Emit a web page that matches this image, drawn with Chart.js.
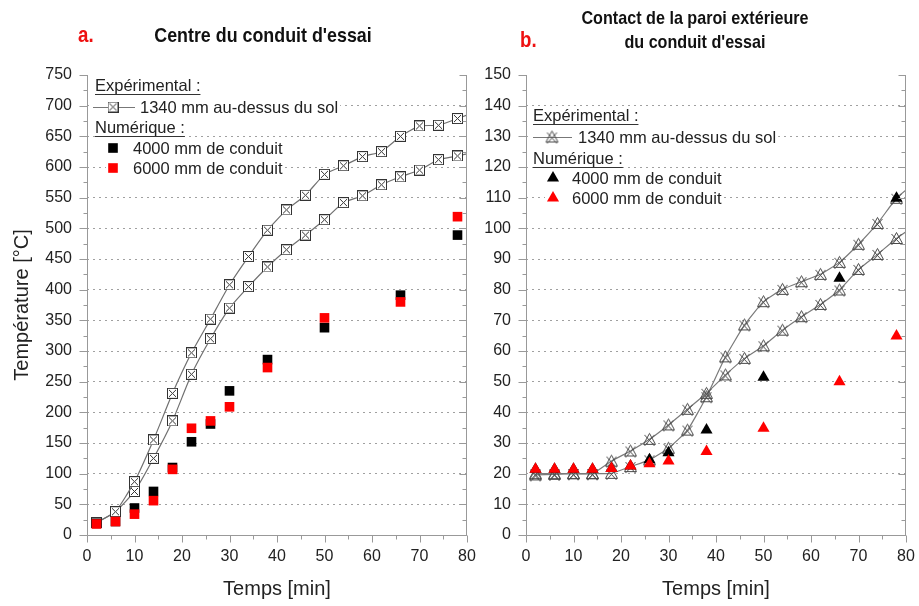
<!DOCTYPE html>
<html><head><meta charset="utf-8">
<script src="https://cdn.jsdelivr.net/npm/chart.js@4.4.1/dist/chart.umd.min.js"></script>
<style>
html,body{margin:0;padding:0;background:#fff;}
#wrap{position:relative;width:919px;height:606px;overflow:hidden;background:#fff;}
canvas{position:absolute;top:0;}
.t{position:absolute;font-family:"Liberation Sans Narrow","Arial Narrow","Liberation Sans",Arial,sans-serif;font-weight:bold;color:#111;white-space:nowrap;line-height:24px;height:24px;transform:scaleX(0.85);}
.c{text-align:center;width:400px;transform-origin:center;}
.l{transform-origin:left center;}
.red{color:#ee1111;}
</style></head>
<body><div id="wrap">
<canvas id="cA" width="500" height="606" style="left:0"></canvas>
<canvas id="cB" width="462" height="606" style="left:478px"></canvas>
<div class="t l red" style="left:78px;top:23px;font-size:22px">a.</div>
<div class="t c" style="left:63px;top:23px;font-size:21px">Centre du conduit d'essai</div>
<div class="t l red" style="left:520px;top:28px;font-size:22px">b.</div>
<div class="t c" style="left:495px;top:6px;font-size:19px">Contact de la paroi extérieure</div>
<div class="t c" style="left:495px;top:30px;font-size:19px">du conduit d'essai</div>
</div>
<script>
// ---------- DATA ----------
const expTimes = [2,6,10,14,18,22,26,30,34,38,42,46,50,54,58,62,66,70,74,78,82];
const numTimes = [2,6,10,14,18,22,26,30,38,50,66,78];

// a. Centre du conduit d'essai
const centreExpUpper = [20,38,87,155,231,297,352,408,454,497,530,554,588,602,617,625,650,667,668,679,690];
const centreExpLower = [20,38,71,125,186,262,320,370,405,437,465,489,514,542,553,571,584,595,612,618,625];
const centreNum4000 = [19,22,44,71,110,152,181,235,286,338,391,489];
const centreNum6000 = [18,22,34,56,107,174,186,209,273,354,380,519];

// b. Contact de la paroi extérieure
const paroiExpA = [20,20,20,20,24.1,27.4,31.2,35.9,41,46.2,52.2,57.6,61.7,66.8,71.2,75.2,79.9,86.6,91.5,96.7,101];
const paroiExpB = [19.6,19.8,20,20,20.1,22.3,24.5,28.3,34.2,45.1,58.1,68.5,76.1,80.1,82.6,85,88.9,94.8,101.6,109.8,115];
const paroiNum4000 = [21.4,21.4,21.4,21.4,21.7,22.5,24.5,26.8,34.2,51.4,83.7,109.8];
const paroiNum6000 = [21.4,21.4,21.4,21.4,21.7,22.5,23.2,24.1,27.2,34.8,50,64.9];

const legendHeadExp = 'Expérimental :';
const legendExp = '1340 mm au-dessus du sol';
const legendHeadNum = 'Numérique :';
const legend4000 = '4000 mm de conduit';
const legend6000 = '6000 mm de conduit';
const xTitle = 'Temps [min]';
const yTitle = 'Température [°C]';

// ---------- helpers ----------
const pts = (xs, ys) => xs.map((x, i) => ({x: x, y: ys[i]}));
const AXIS = '#999999';
const TXT = '#222222';
const FONT = '"Liberation Sans", Arial, sans-serif';

function makeSqX(size, color) {
  const c = document.createElement('canvas'); c.width = size; c.height = size;
  const g = c.getContext('2d');
  g.fillStyle = '#fff'; g.fillRect(0.5, 0.5, size - 1, size - 1);
  g.strokeStyle = color; g.lineWidth = 1;
  g.strokeRect(0.5, 0.5, size - 1, size - 1);
  g.beginPath(); g.moveTo(2, 2); g.lineTo(size - 2, size - 2);
  g.moveTo(size - 2, 2); g.lineTo(2, size - 2); g.stroke();
  return c;
}
function makeTriX(size, color) {
  const c = document.createElement('canvas'); c.width = size; c.height = size;
  const g = c.getContext('2d');
  g.strokeStyle = color; g.lineWidth = 1;
  g.beginPath();
  g.moveTo(size / 2, 1.5); g.lineTo(size - 1.5, size - 2.5); g.lineTo(1.5, size - 2.5); g.closePath();
  g.moveTo(2.5, 3); g.lineTo(size - 2.5, size - 1);
  g.moveTo(size - 2.5, 3); g.lineTo(2.5, size - 1);
  g.stroke();
  return c;
}
const markSq = makeSqX(11, '#333');
const markTri = makeTriX(15, '#4a4a4a');

function drawMarker(ctx, style, radius, color, x, y) {
  ctx.save();
  if (style instanceof HTMLCanvasElement) {
    ctx.drawImage(style, x - style.width / 2, y - style.height / 2);
  } else {
    ctx.fillStyle = color; ctx.strokeStyle = color;
    Chart.helpers.drawPoint(ctx, {pointStyle: style, radius: radius, rotation: 0, borderWidth: 0}, x, y);
  }
  ctx.restore();
}

// axes box + minor ticks + legend plugin
const boxPlugin = {
  id: 'boxAxes',
  afterDatasetsDraw(chart, args, o) {
    const ctx = chart.ctx, a = chart.chartArea;
    const xs = chart.scales.x, ys = chart.scales.y;
    ctx.save();
    ctx.strokeStyle = AXIS; ctx.lineWidth = 1;
    const L = Math.round(a.left) + 0.5, R = Math.round(a.right) - 0.5, B = Math.round(a.bottom) + 0.5, T = Math.round(a.top);
    ctx.beginPath();
    ctx.moveTo(L, T); ctx.lineTo(L, B); ctx.lineTo(R + 0.5, B);
    ctx.moveTo(R, T); ctx.lineTo(R, B);
    for (let v = ys.min; v <= ys.max + 1e-9; v += o.yMinor) {
      const p = Math.round(ys.getPixelForValue(v)) + 0.5;
      const major = Math.abs(v / o.yMajor - Math.round(v / o.yMajor)) < 1e-6;
      const len = major ? 8 : 4;
      ctx.moveTo(L - len, p); ctx.lineTo(L, p);
      ctx.moveTo(R - (major ? 7 : 4), p); ctx.lineTo(R, p);
    }
    for (let v = xs.min; v <= xs.max + 1e-9; v += o.xMinor) {
      const p = Math.round(xs.getPixelForValue(v)) + 0.5;
      const major = Math.abs(v / o.xMajor - Math.round(v / o.xMajor)) < 1e-6;
      ctx.moveTo(p, B); ctx.lineTo(p, B + (major ? 7 : 4));
    }
    ctx.stroke();

    // legend
    const lg = o.legend;
    ctx.font = '16.5px ' + FONT;
    ctx.textBaseline = 'middle';
    lg.rows.forEach(r => {
      const y = a.top + r.dy;
      const tx = a.left + r.tx;
      const w = ctx.measureText(r.text).width;
      const bgx = a.left + (r.bx !== undefined ? r.bx : r.tx) - 1;
      ctx.fillStyle = '#fff';
      ctx.fillRect(bgx, y - 9, tx + w + 2 - bgx, 18);
      if (r.line) {
        ctx.strokeStyle = '#777'; ctx.lineWidth = 1;
        ctx.beginPath(); ctx.moveTo(a.left + r.line[0], Math.round(y) + 0.5); ctx.lineTo(a.left + r.line[1], Math.round(y) + 0.5); ctx.stroke();
      }
      if (r.marker) {
        drawMarker(ctx, r.marker.style, r.marker.radius, r.marker.color, a.left + r.mx, y);
      }
      ctx.fillStyle = TXT;
      ctx.fillText(r.text, tx, y + 1);
      if (r.underline) {
        ctx.strokeStyle = '#333'; ctx.lineWidth = 1;
        ctx.beginPath(); ctx.moveTo(tx, Math.round(y + 9) + 0.5); ctx.lineTo(tx + w, Math.round(y + 9) + 0.5); ctx.stroke();
      }
    });
    ctx.restore();
  }
};

function makeChart(id, cfg) {
  const canvas = document.getElementById(id);
  const W = canvas.width;
  const state = {yWidth: cfg.left};
  return new Chart(canvas, {
    type: 'scatter',
    data: {datasets: cfg.datasets},
    plugins: [boxPlugin],
    options: {
      responsive: false,
      animation: false,
      devicePixelRatio: 1,
      layout: {padding: {left: 0, right: W - cfg.right, top: 75, bottom: 0}},
      plugins: {
        legend: {display: false},
        tooltip: {enabled: false},
        boxAxes: cfg.box
      },
      scales: {
        x: {
          type: 'linear', min: 0, max: 80,
          afterFit: s => { s.height = 71; },
          grid: {display: false, drawTicks: false},
          border: {display: false},
          ticks: {
            stepSize: 5, autoSkip: false, maxRotation: 0, padding: 12,
            color: TXT, font: {family: FONT, size: 16},
            callback: v => (v % 10 === 0 ? String(v) : '')
          },
          title: {display: true, text: xTitle, color: TXT, font: {family: FONT, size: 20}, padding: {top: 0, bottom: 5}}
        },
        y: {
          type: 'linear', min: 0, max: cfg.ymax,
          afterFit: s => { s.width = state.yWidth; },
          grid: {
            display: true, drawTicks: false, lineWidth: 1,
            color: c => (c.tick && c.tick.value % cfg.yMajor === 0 && c.tick.value !== 0 && c.tick.value !== cfg.ymax) ? '#a0a0a0' : 'rgba(0,0,0,0)'
          },
          border: {display: false, dash: [2, 4]},
          ticks: {
            stepSize: cfg.yMinor, autoSkip: false, padding: 15,
            color: TXT, font: {family: FONT, size: 16},
            callback: v => (v % cfg.yMajor === 0 ? String(v) : '')
          },
          title: {display: cfg.yTitle !== '', text: cfg.yTitle, color: TXT, font: {family: FONT, size: 20}, padding: {top: 10, bottom: 0}}
        }
      }
    }
  });
}

const clipR = {left: false, top: false, right: 0, bottom: false};

// ---------- chart a ----------
makeChart('cA', {
  right: 467, left: 87, ymax: 750, yMajor: 50, yMinor: 25, yTitle: yTitle,
  datasets: [
    {label: legend6000, data: pts(numTimes, centreNum6000), pointStyle: 'rect', pointRadius: 6.8, backgroundColor: '#ff0000', borderWidth: 0, showLine: false},
    {label: legend4000, data: pts(numTimes, centreNum4000), pointStyle: 'rect', pointRadius: 6.8, backgroundColor: '#000000', borderWidth: 0, showLine: false},
    {label: legendExp, data: pts(expTimes, centreExpUpper), pointStyle: markSq, showLine: true, borderColor: '#707070', borderWidth: 1.2, tension: 0.15, clip: clipR},
    {label: legendExp, data: pts(expTimes, centreExpLower), pointStyle: markSq, showLine: true, borderColor: '#707070', borderWidth: 1.2, tension: 0.15, clip: clipR}
  ],
  box: {
    xMinor: 5, xMajor: 10, yMinor: 25, yMajor: 50,
    legend: {rows: [
      {text: legendHeadExp, tx: 8, dy: 10, underline: true},
      {text: legendExp, tx: 53, bx: 6, dy: 32, line: [6, 48], mx: 26, marker: {style: markSq}},
      {text: legendHeadNum, tx: 8, dy: 52, underline: true},
      {text: legend4000, tx: 46, bx: 20, dy: 73, mx: 26, marker: {style: 'rect', radius: 6.8, color: '#000'}},
      {text: legend6000, tx: 46, bx: 20, dy: 93, mx: 26, marker: {style: 'rect', radius: 6.8, color: '#ff0000'}}
    ]}
  }
});

// ---------- chart b ----------
makeChart('cB', {
  right: 428, left: 48, ymax: 150, yMajor: 10, yMinor: 5, yTitle: '',
  datasets: [
    {label: legend6000, data: pts(numTimes, paroiNum6000), pointStyle: 'triangle', pointRadius: 7, backgroundColor: '#ff0000', borderWidth: 0, showLine: false},
    {label: legend4000, data: pts(numTimes, paroiNum4000), pointStyle: 'triangle', pointRadius: 7, backgroundColor: '#000000', borderWidth: 0, showLine: false},
    {label: legendExp, data: pts(expTimes, paroiExpA), pointStyle: markTri, showLine: true, borderColor: '#7a7a7a', borderWidth: 1.2, tension: 0.15, clip: clipR},
    {label: legendExp, data: pts(expTimes, paroiExpB), pointStyle: markTri, showLine: true, borderColor: '#7a7a7a', borderWidth: 1.2, tension: 0.15, clip: clipR}
  ],
  box: {
    xMinor: 5, xMajor: 10, yMinor: 5, yMajor: 10,
    legend: {rows: [
      {text: legendHeadExp, tx: 7, dy: 40, underline: true},
      {text: legendExp, tx: 52, bx: 7, dy: 62, line: [7, 46], mx: 26, marker: {style: markTri}},
      {text: legendHeadNum, tx: 7, dy: 83, underline: true},
      {text: legend4000, tx: 46, bx: 20, dy: 103, mx: 27, marker: {style: 'triangle', radius: 7, color: '#000'}},
      {text: legend6000, tx: 46, bx: 20, dy: 123, mx: 27, marker: {style: 'triangle', radius: 7, color: '#ff0000'}}
    ]}
  }
});
</script>
</body></html>
